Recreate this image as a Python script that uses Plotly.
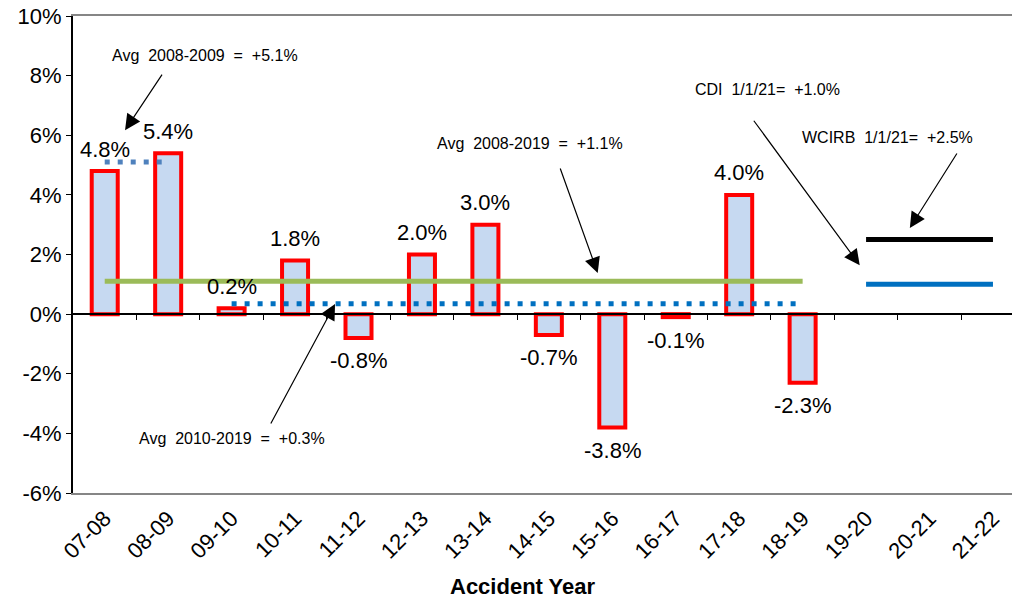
import plotly.graph_objects as go

# ---- data ----
categories = ["07-08", "08-09", "09-10", "10-11", "11-12", "12-13", "13-14",
              "14-15", "15-16", "16-17", "17-18", "18-19", "19-20", "20-21", "21-22"]
bar_years = categories[:12]
bar_values = [4.8, 5.4, 0.2, 1.8, -0.8, 2.0, 3.0, -0.7, -3.8, -0.1, 4.0, -2.3]
bar_labels = ["4.8%", "5.4%", "0.2%", "1.8%", "-0.8%", "2.0%", "3.0%",
              "-0.7%", "-3.8%", "-0.1%", "4.0%", "-2.3%"]

avg_0819_x = ["07-08", "18-19"]
avg_0819_y = [1.1, 1.1]
avg_1019_x = ["09-10", "18-19"]
avg_1019_y = [0.35, 0.35]
avg_0809_x = ["07-08", "08-09"]
avg_0809_y = [5.1, 5.1]
wcirb_x = ["19-20", "21-22"]
wcirb_y = [2.5, 2.5]
cdi_x = ["19-20", "21-22"]
cdi_y = [1.0, 1.0]

y_ticks = [-6, -4, -2, 0, 2, 4, 6, 8, 10]
y_ticktext = ["-6%", "-4%", "-2%", "0%", "2%", "4%", "6%", "8%", "10%"]

FONT = "Arial, Liberation Sans, sans-serif"
XR = [-0.5, 14.3]

fig = go.Figure()

fig.add_trace(go.Bar(
    x=bar_years, y=bar_values, width=0.41,
    marker=dict(color="#C6D9F1", line=dict(color="#FF0000", width=4)),
    showlegend=False, hoverinfo="skip"))

fig.add_trace(go.Scatter(x=avg_0819_x, y=avg_0819_y, mode="lines",
                         line=dict(color="#9BBB59", width=5), showlegend=False))
fig.add_trace(go.Scatter(x=avg_1019_x, y=avg_1019_y, mode="lines",
                         line=dict(color="#0070C0", width=5, dash="5px,8px"), showlegend=False))
fig.add_trace(go.Scatter(x=avg_0809_x, y=avg_0809_y, mode="lines",
                         line=dict(color="#4F81BD", width=5, dash="5px,8px"), showlegend=False))
fig.add_trace(go.Scatter(x=wcirb_x, y=wcirb_y, mode="lines",
                         line=dict(color="#000000", width=5), showlegend=False))
fig.add_trace(go.Scatter(x=cdi_x, y=cdi_y, mode="lines",
                         line=dict(color="#0070C0", width=5), showlegend=False))

# invisible trace to hold the zero-line axis
fig.add_trace(go.Scatter(x=[0], y=[0], xaxis="x2", yaxis="y", mode="markers",
                         marker=dict(opacity=0), showlegend=False, hoverinfo="skip"))

annotations = []
for cat, v, lab in zip(bar_years, bar_values, bar_labels):
    annotations.append(dict(x=cat, y=v, xref="x", yref="y", text=lab, showarrow=False,
                            yanchor="middle", yshift=22 if v >= 0 else -23,
                            font=dict(family=FONT, size=22, color="black")))

note_font = dict(family=FONT, size=16, color="black")
notes = [
    (1.58, 8.69, "Avg\u00a0 2008-2009\u00a0 =\u00a0 +5.1%"),
    (6.70, 5.74, "Avg\u00a0 2008-2019\u00a0 =\u00a0 +1.1%"),
    (2.01, -4.16, "Avg\u00a0 2010-2019\u00a0 =\u00a0 +0.3%"),
    (10.44, 7.52, "CDI\u00a0 1/1/21=\u00a0 +1.0%"),
    (12.34, 5.94, "WCIRB\u00a0 1/1/21=\u00a0 +2.5%"),
]
for x, y, t in notes:
    annotations.append(dict(x=x, y=y, xref="x", yref="y", text=t, showarrow=False,
                            font=note_font))

arrows = [
    (0.32, 6.17, 38, -57),
    (7.77, 1.38, -38, -106),
    (3.63, 0.34, -65, 121),
    (11.90, 1.64, -107, -146),
    (12.69, 2.89, 48, -76),
]
for x, y, ax, ay in arrows:
    annotations.append(dict(x=x, y=y, xref="x", yref="y", ax=ax, ay=ay, text="",
                            showarrow=True, arrowhead=2, arrowsize=2.6, arrowwidth=1.2,
                            arrowcolor="black", standoff=0))

annotations.append(dict(x=0.479, y=-0.197, xref="paper", yref="paper",
                        xanchor="center", yanchor="middle",
                        text="<b>Accident Year</b>", showarrow=False,
                        font=dict(family=FONT, size=22, color="black")))

fig.update_layout(
    width=1012, height=600,
    margin=dict(l=73, r=0, t=16, b=107),
    paper_bgcolor="white", plot_bgcolor="white",
    font=dict(family=FONT, color="black"),
    bargap=0.5,
    xaxis=dict(type="category", categoryorder="array", categoryarray=categories,
               range=XR, tickangle=-45, ticks="", showgrid=False, automargin=False,
               showline=True, linecolor="#868686", linewidth=2, mirror=True,
               ticklabelstandoff=2, ticklabeloverflow="allow",
               tickfont=dict(family=FONT, size=22, color="black")),
    xaxis2=dict(overlaying="x", anchor="free", position=0.375, range=XR,
                showline=True, linecolor="black", linewidth=2, automargin=False,
                ticks="outside", ticklen=5, tickwidth=1, tickcolor="black",
                tickvals=[k + 0.5 for k in range(14)], showticklabels=False,
                showgrid=False, zeroline=False),
    yaxis=dict(range=[-6, 10], tickvals=y_ticks, ticktext=y_ticktext, automargin=False,
               ticks="outside", ticklen=5, tickcolor="black", showgrid=False,
               zeroline=False, showline=True, linecolor="black", linewidth=2,
               ticklabeloverflow="allow",
               tickfont=dict(family=FONT, size=22, color="black")),
    annotations=annotations,
)

fig.write_html("out.html", config={"displayModeBar": False},
               post_script="document.body.style.margin='0';document.body.style.overflow='hidden';")
